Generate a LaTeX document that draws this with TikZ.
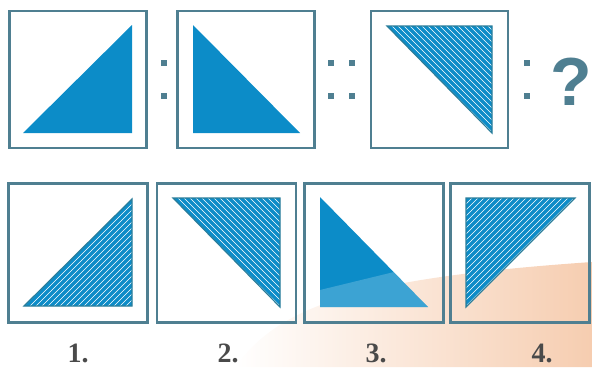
\documentclass[tikz,border=0pt]{standalone}
\usepackage{fontspec}
\setmainfont{Liberation Serif}
\newfontfamily\qfont{Liberation Sans}
\usetikzlibrary{positioning, calc}

\definecolor{frame}{HTML}{4F7F91}
\definecolor{tri}{HTML}{0C8CC8}
\definecolor{triedge}{HTML}{2A7D9A}
\definecolor{peach}{HTML}{F6CDB0}
\definecolor{numgray}{HTML}{4A4A4A}

\begin{document}
\begin{tikzpicture}[
			x=1pt, y=-1pt,
			box/.style={rectangle, draw=frame, line width=2.6pt, minimum width=137pt, minimum height=137pt, inner sep=0pt},
			dot/.style={rectangle, fill=frame, minimum size=6.5pt, inner sep=0pt},
			solid tri/.style={fill=tri},
			hatchline/.style={white, line width=0.55pt},
			num/.style={font=\fontsize{28}{30}\selectfont\bfseries, text=numgray}
			]
			\useasboundingbox (0,0) rectangle (592,367);
			
			% soft glare in the lower right
			\shade[left color=white, right color=peach, draw=none]
				(235,367) .. controls (280,305) and (360,278) .. (592,262) -- (592,367) -- cycle;
			
			% question row
			\node[box] (q1) at (78,79.5) {};
			\node[box] (q2) at (246,79.5) {};
			\node[box] (q3) at (439.5,79.5) {};
			
			\fill[solid tri] (23,133) -- (132,25) -- (132,133) -- cycle;
			\fill[solid tri] (193,25) -- (193,133) -- (300,133) -- cycle;
			
			\begin{scope}
				\clip (387,26) -- (492,26) -- (492,133) -- cycle;
				\fill[tri] (380,20) rectangle (500,140);
				\foreach \d in {-120,-114,...,120}
					\draw[hatchline] ($(440,80)+(\d-70,-70)$) -- ++(140,140);
			\end{scope}
			\draw[triedge, line width=1.2pt] (387,26) -- (492,26) -- (492,133) -- cycle;
			
			\node[dot] (c1a) at (164,63) {};
			\node[dot] (c1b) at (164,96) {};
			\node[dot] (c2a) at (331,63) {};
			\node[dot] (c2b) at (331,96) {};
			\node[dot] (c3a) at (352,63) {};
			\node[dot] (c3b) at (352,96) {};
			\node[dot] (c4a) at (527,63) {};
			\node[dot] (c4b) at (527,96) {};
			\node[text=frame, font=\qfont\bfseries\fontsize{68}{68}\selectfont, inner sep=0pt] (ask) at (571,82) {?};
			
			% answer row
			\node[box, minimum width=139pt, minimum height=139pt] (a1) at (78,253) {};
			\node[box, minimum width=139pt, minimum height=139pt] (a2) at (226.5,253) {};
			\node[box, minimum width=139pt, minimum height=139pt] (a3) at (374,253) {};
			\node[box, minimum width=139pt, minimum height=139pt] (a4) at (520,253) {};
			
			% 1
			\begin{scope}
				\clip (24,306) -- (132,199) -- (132,306) -- cycle;
				\fill[tri] (20,195) rectangle (136,310);
				\foreach \d in {-120,-114,...,120}
					\draw[hatchline] ($(78,252)+(\d-70,70)$) -- ++(140,-140);
			\end{scope}
			\draw[triedge, line width=1.2pt] (24,306) -- (132,199) -- (132,306) -- cycle;
			
			% 2
			\begin{scope}
				\clip (173,198) -- (280,198) -- (280,307) -- cycle;
				\fill[tri] (170,195) rectangle (284,310);
				\foreach \d in {-120,-114,...,120}
					\draw[hatchline] ($(226,252)+(\d-70,-70)$) -- ++(140,140);
			\end{scope}
			\draw[triedge, line width=1.2pt] (173,198) -- (280,198) -- (280,307) -- cycle;
			
			% 3
			\fill[solid tri] (320,197) -- (320,307) -- (428,307) -- cycle;
			\fill[white, opacity=0.2] (320,290) -- (320,307) -- (428,307) -- (394,272) -- cycle;
			
			% 4
			\begin{scope}
				\clip (466,198) -- (575,198) -- (466,307) -- cycle;
				\fill[tri] (462,195) rectangle (578,310);
				\foreach \d in {-120,-114,...,120}
					\draw[hatchline] ($(520,252)+(\d-70,70)$) -- ++(140,-140);
			\end{scope}
			\draw[triedge, line width=1.2pt] (466,198) -- (575,198) -- (466,307) -- cycle;
			
			\node[num] (n1) at (78,353) {1.};
			\node[num] (n2) at (228,353) {2.};
			\node[num] (n3) at (376,353) {3.};
			\node[num] (n4) at (542,353) {4.};
		\end{tikzpicture}
\end{document}
